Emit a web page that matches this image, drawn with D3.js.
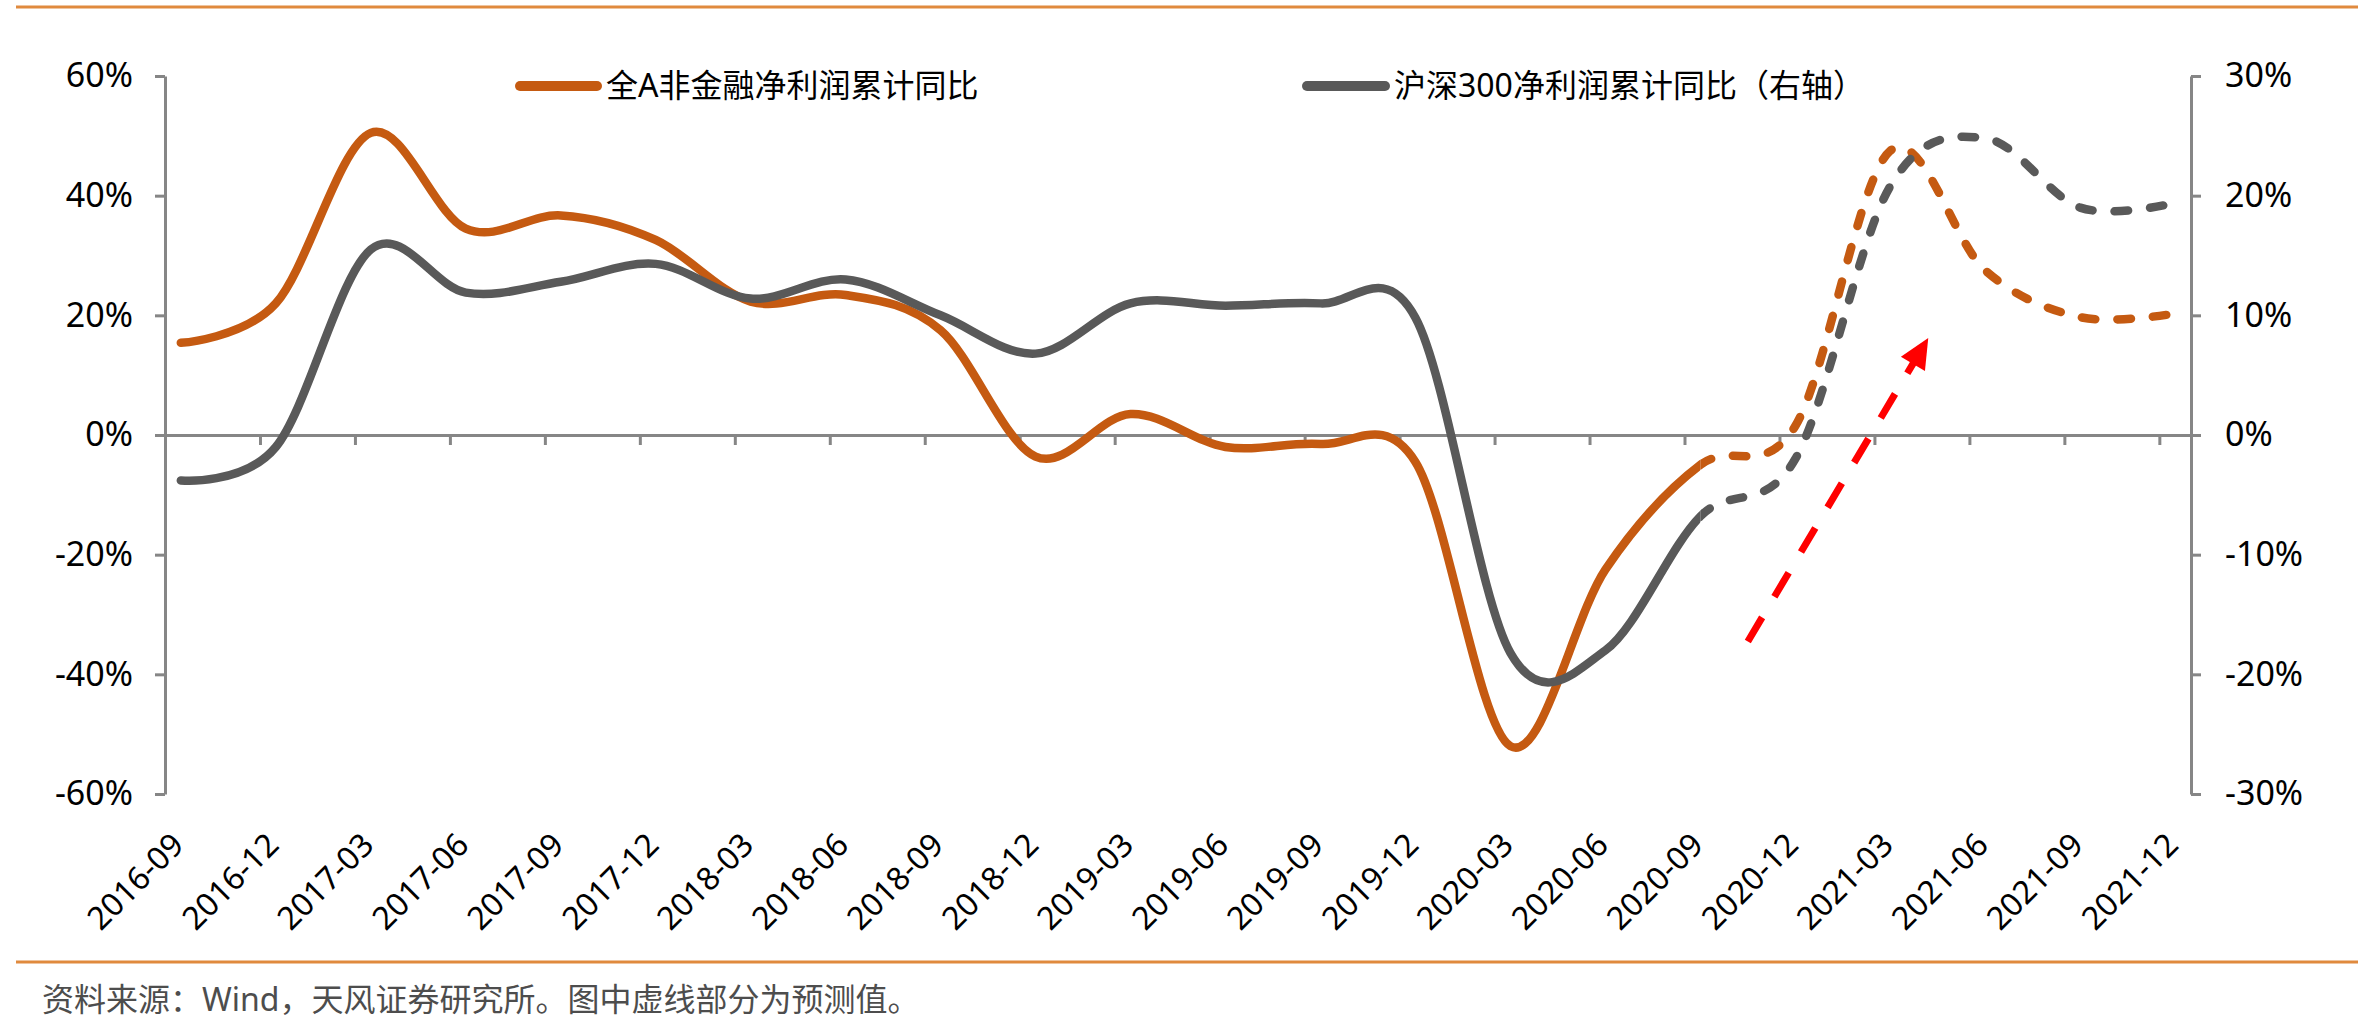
<!DOCTYPE html>
<html><head><meta charset="utf-8">
<script src="https://cdn.jsdelivr.net/npm/d3@7"></script>
<style>
body{margin:0;background:#fff}
svg{display:block}
text{font-family:"Noto Sans","Noto Sans CJK SC",sans-serif}
</style>
</head><body>
<svg id="chart" width="2371" height="1027"></svg>
<script>
// ---------------- data ----------------
const categories = ["2016-09","2016-12","2017-03","2017-06","2017-09","2017-12","2018-03","2018-06","2018-09","2018-12","2019-03","2019-06","2019-09","2019-12","2020-03","2020-06","2020-09","2020-12","2021-03","2021-06","2021-09","2021-12"];
// 全A非金融净利润累计同比 (%), left axis
const allANonFin = [15.4, 22.0, 50.5, 34.5, 36.7, 32.6, 22.3, 23.4, 17.5, -3.6, 3.5, -2.0, -1.5, -4.5, -52.0, -22.5, -5.0, 1.5, 47.5, 27.5, 19.7, 20.3];
// 沪深300净利润累计同比 (%), right axis
const hs300 = [-3.8, -1.0, 15.5, 11.9, 12.8, 14.3, 11.4, 13.0, 10.0, 6.8, 11.0, 10.8, 11.0, 9.8, -18.2, -18.0, -6.8, -2.0, 20.8, 24.8, 19.0, 19.4];
const forecastFrom = 16; // index of the last actual value; dashed afterwards
const leftTicks = [-60, -40, -20, 0, 20, 40, 60];
const rightTicks = [-30, -20, -10, 0, 10, 20, 30];
const legendLabels = ["全A非金融净利润累计同比", "沪深300净利润累计同比（右轴）"];
const footnote = "资料来源：Wind，天风证券研究所。图中虚线部分为预测值。";
// annotation arrow (month index from 2016-09, left-axis value)
const arrowMonths = [50.0, 55.7];
const arrowValues = [-34.5, 16.2];

// ---------------- layout ----------------
const W = 2371, H = 1027;
const svg = d3.select("#chart");
const ORANGE = "#C55A11", GRAY = "#595959", AXIS = "#868686", RULE = "#E08A3E", RED = "#FF0000";

const x = d3.scaleLinear().domain([0, 64]).range([165, 2191]);
const yL = d3.scaleLinear().domain([-60, 60]).range([794, 76]);
const yR = d3.scaleLinear().domain([-30, 30]).range([794, 76]);
const monthOf = i => 3 * i + 0.5;

// rules
svg.append("line").attr("x1", 16).attr("x2", 2358).attr("y1", 7).attr("y2", 7)
  .attr("stroke", RULE).attr("stroke-width", 3);
svg.append("line").attr("x1", 16).attr("x2", 2358).attr("y1", 962).attr("y2", 962)
  .attr("stroke", RULE).attr("stroke-width", 3);

// axes
function styleAxis(g){
  g.selectAll("path.domain").attr("stroke", AXIS).attr("stroke-width", 3);
  g.selectAll(".tick line").attr("stroke", AXIS).attr("stroke-width", 3);
  g.selectAll(".tick text").attr("fill", "#000").style("font-size", "34px")
    .style("font-family", '"Noto Sans","Noto Sans CJK SC",sans-serif');
}
const gL = svg.append("g").attr("transform", `translate(${x(0)},0)`)
  .call(d3.axisLeft(yL).tickValues(leftTicks).tickFormat(d => d + "%").tickSize(10).tickSizeOuter(0).tickPadding(22));
styleAxis(gL);
const gR = svg.append("g").attr("transform", `translate(${x(64)},0)`)
  .call(d3.axisRight(yR).tickValues(rightTicks).tickFormat(d => d + "%").tickSize(10).tickSizeOuter(0).tickPadding(24));
styleAxis(gR);
const gX = svg.append("g").attr("transform", `translate(0,${yL(0)})`)
  .call(d3.axisBottom(x).tickValues(d3.range(3, 64, 3)).tickFormat("").tickSize(10).tickSizeOuter(0));
styleAxis(gX);

// x labels
svg.append("g").selectAll("text").data(categories).join("text")
  .attr("transform", (d, i) => `translate(${x(monthOf(i)) - 3},839) rotate(-45)`)
  .attr("text-anchor", "end").attr("dy", "0.35em")
  .style("font-size", "32px").attr("fill", "#000").text(d => d);

// clip regions for actual / forecast
const splitX = x(monthOf(forecastFrom));
const defs = svg.append("defs");
defs.append("clipPath").attr("id", "clipActual").append("rect")
  .attr("x", 0).attr("y", 0).attr("width", splitX).attr("height", H);
defs.append("clipPath").attr("id", "clipFcst").append("rect")
  .attr("x", splitX).attr("y", 0).attr("width", W - splitX).attr("height", H);

function drawSeries(values, yScale, color){
  const pts = values.map((v, i) => [x(monthOf(i)), yScale(v)]);
  const line = d3.line().curve(d3.curveCardinal.tension(0));
  svg.append("path").attr("d", line(pts)).attr("fill", "none")
    .attr("stroke", color).attr("stroke-width", 8.5).attr("stroke-linecap", "round")
    .attr("stroke-linejoin", "round").attr("clip-path", "url(#clipActual)");
  const dp = svg.append("path").attr("d", line(pts)).attr("fill", "none")
    .attr("stroke", color).attr("stroke-width", 8.5).attr("stroke-linecap", "round")
    .attr("stroke-dasharray", "13.5 22").attr("clip-path", "url(#clipFcst)");
  // start the dash pattern at the split point
  const node = dp.node();
  const total = node.getTotalLength();
  let lo = 0, hi = total;
  for (let k = 0; k < 40; k++) {
    const mid = (lo + hi) / 2;
    if (node.getPointAtLength(mid).x < splitX) lo = mid; else hi = mid;
  }
  dp.attr("stroke-dashoffset", -lo + 2);
}
drawSeries(allANonFin, yL, ORANGE);
drawSeries(hs300, yR, GRAY);

// legend
const legend = [
  {label: legendLabels[0], color: ORANGE, x0: 520, x1: 597, tx: 606},
  {label: legendLabels[1], color: GRAY, x0: 1307, x1: 1385, tx: 1394}
];
legend.forEach(l => {
  svg.append("line").attr("x1", l.x0).attr("x2", l.x1).attr("y1", 86).attr("y2", 86)
    .attr("stroke", l.color).attr("stroke-width", 10).attr("stroke-linecap", "round");
  svg.append("text").attr("x", l.tx).attr("y", 86).attr("dy", "0.35em")
    .style("font-size", "32px").attr("fill", "#000").text(l.label);
});

// red arrow annotation
const ax0 = x(arrowMonths[0]), ay0 = yL(arrowValues[0]);
const ax1 = x(arrowMonths[1]), ay1 = yL(arrowValues[1]);
const len = Math.hypot(ax1 - ax0, ay1 - ay0);
const ux = (ax1 - ax0) / len, uy = (ay1 - ay0) / len;
const headLen = 30, headHalf = 14;
const bx = ax1 - ux * headLen, by = ay1 - uy * headLen;
svg.append("line").attr("x1", ax0).attr("y1", ay0).attr("x2", bx + ux * 2).attr("y2", by + uy * 2)
  .attr("stroke", RED).attr("stroke-width", 7).attr("stroke-dasharray", "28 24");
svg.append("path")
  .attr("d", `M${ax1},${ay1}L${bx - uy * headHalf},${by + ux * headHalf}L${bx + uy * headHalf},${by - ux * headHalf}Z`)
  .attr("fill", RED);

// footnote
svg.append("text").attr("x", 42).attr("y", 1000).attr("dy", "0.35em")
  .style("font-size", "32px").attr("fill", "#4d4d4d").text(footnote);
</script>
</body></html>
